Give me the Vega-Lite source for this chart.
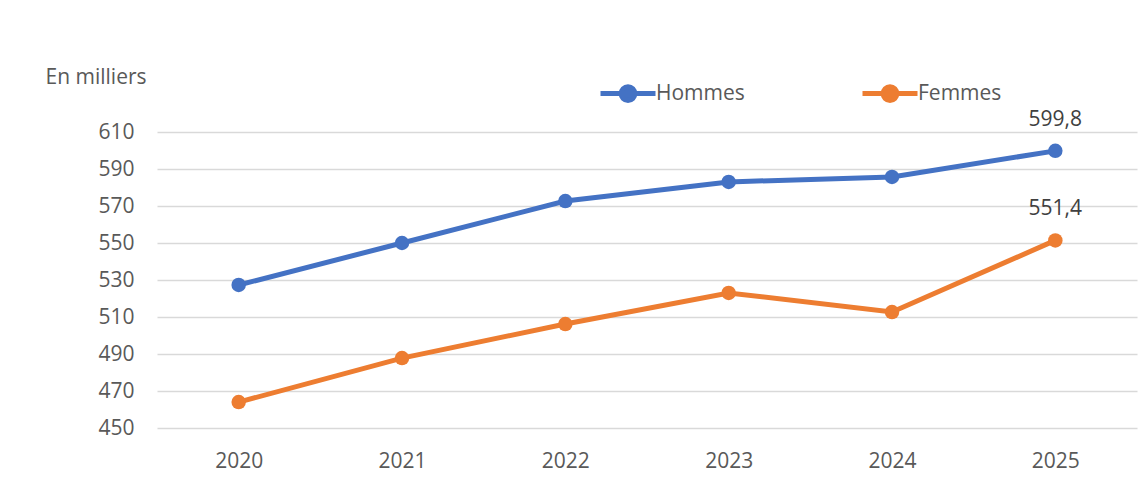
{
  "$schema": "https://vega.github.io/schema/vega-lite/v6.json",
  "width": 980,
  "height": 296,
  "autosize": {"type": "none"},
  "padding": {"left": 157, "top": 132, "right": 6, "bottom": 59},
  "background": "white",
  "config": {
    "view": {"stroke": null},
    "font": "Open Sans",
    "locale": {"number": {"decimal": ",", "thousands": " ", "grouping": [3], "currency": ["", " €"]}}
  },
  "data": {
    "values": [
      {"annee": "2020", "serie": "Hommes", "valeur": 527.3},
      {"annee": "2021", "serie": "Hommes", "valeur": 550.0},
      {"annee": "2022", "serie": "Hommes", "valeur": 572.7},
      {"annee": "2023", "serie": "Hommes", "valeur": 583.0},
      {"annee": "2024", "serie": "Hommes", "valeur": 585.7},
      {"annee": "2025", "serie": "Hommes", "valeur": 599.8},
      {"annee": "2020", "serie": "Femmes", "valeur": 464.0},
      {"annee": "2021", "serie": "Femmes", "valeur": 487.8},
      {"annee": "2022", "serie": "Femmes", "valeur": 506.2},
      {"annee": "2023", "serie": "Femmes", "valeur": 523.0},
      {"annee": "2024", "serie": "Femmes", "valeur": 512.7},
      {"annee": "2025", "serie": "Femmes", "valeur": 551.4}
    ]
  },
  "encoding": {
    "x": {
      "field": "annee",
      "type": "ordinal",
      "scale": {"type": "point", "padding": 0.5},
      "axis": {
        "title": null,
        "labelAngle": 0,
        "labelFontSize": 21,
        "labelColor": "#595959",
        "labelPadding": 22,
        "domain": false,
        "ticks": false,
        "grid": false
      }
    },
    "y": {
      "field": "valeur",
      "type": "quantitative",
      "scale": {"domain": [450, 610], "nice": false, "zero": false},
      "axis": {
        "values": [450, 470, 490, 510, 530, 550, 570, 590, 610],
        "title": "En milliers",
        "titleAngle": 0,
        "titleX": -112,
        "titleY": -55,
        "titleAlign": "left",
        "titleBaseline": "middle",
        "titleFontSize": 21,
        "titleFontWeight": "normal",
        "titleColor": "#595959",
        "labelFontSize": 21,
        "labelColor": "#595959",
        "labelPadding": 23,
        "domain": false,
        "ticks": false,
        "gridColor": "#D9D9D9",
        "gridWidth": 1.5
      }
    },
    "color": {
      "field": "serie",
      "type": "nominal",
      "sort": ["Hommes", "Femmes"],
      "scale": {"domain": ["Hommes", "Femmes"], "range": ["#4472C4", "#ED7D31"]},
      "legend": {
        "title": null,
        "orient": "none",
        "direction": "horizontal",
        "legendX": 441,
        "legendY": -68.5,
        "symbolType": "M-1,0H1M-0.25,0A0.25,0.25 0 1,1 0.25,0A0.25,0.25 0 1,1 -0.25,0Z",
        "symbolSize": 3025,
        "symbolStrokeWidth": 5,
        "labelFontSize": 21,
        "labelColor": "#595959",
        "labelOffset": -2,
        "columnPadding": 107
      }
    }
  },
  "layer": [
    {
      "mark": {"type": "line", "strokeWidth": 5, "point": {"size": 210, "filled": true, "opacity": 1}}
    },
    {
      "transform": [{"filter": "datum.annee == '2025'"}],
      "mark": {"type": "text", "fontSize": 21, "color": "#404040", "baseline": "middle", "dy": -31},
      "encoding": {
        "text": {"field": "valeur", "type": "quantitative", "format": ".1f"},
        "color": {"value": "#404040"}
      }
    }
  ]
}
